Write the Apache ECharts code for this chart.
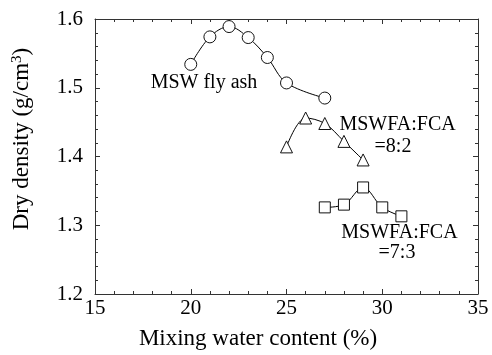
<!DOCTYPE html>
<html><head><meta charset="utf-8">
<script src="https://cdn.jsdelivr.net/npm/echarts@6/dist/echarts.min.js"></script>
<style>html,body{margin:0;padding:0;background:#fff}#c{width:492px;height:355px}</style>
</head><body><div id="c"></div>
<script>
const mswX = [20, 21, 22, 23, 24, 25, 27];
const mswY = [1.534, 1.574, 1.589, 1.573, 1.544, 1.507, 1.485];
const fa82X = [25, 26, 27, 28, 29];
const fa82Y = [1.414, 1.456, 1.448, 1.422, 1.395];
const fa73X = [27, 28, 29, 30, 31];
const fa73Y = [1.326, 1.330, 1.355, 1.326, 1.313];
const xTicks = [15, 20, 25, 30, 35];
const yTicks = [1.2, 1.3, 1.4, 1.5, 1.6];

const F = 'Liberation Serif';
const zip = (a, b) => a.map((v, i) => [v, b[i]]);
const axCommon = {
  axisLine: {show: true, lineStyle: {color: '#333', width: 1}},
  axisTick: {show: true, inside: true, length: 5, lineStyle: {color: '#333'}},
  minorTick: {show: true, splitNumber: 5, length: 3, lineStyle: {color: '#333'}},
  splitLine: {show: false}
};
function mkSeries(data, symbol, size) {
  return {
    type: 'line', data: data, symbol: symbol, symbolSize: size, smooth: 0.35,
    lineStyle: {color: '#000', width: 1},
    itemStyle: {color: '#fff', borderColor: '#111', borderWidth: 1},
    z: 3
  };
}
const chart = echarts.init(document.getElementById('c'));
chart.setOption({
  animation: false,
  grid: {left: 95, right: 14, top: 19, bottom: 61},
  xAxis: [
    Object.assign({type: 'value', min: xTicks[0], max: xTicks[xTicks.length - 1], interval: 5,
      axisLabel: {fontFamily: F, fontSize: 21, color: '#000', margin: 4}}, axCommon),
    Object.assign({type: 'value', position: 'top', min: 15, max: 35, interval: 5,
      axisLabel: {show: false}}, axCommon)
  ],
  yAxis: [
    Object.assign({type: 'value', min: yTicks[0], max: yTicks[yTicks.length - 1], interval: 0.1,
      axisLabel: {fontFamily: F, fontSize: 21, color: '#000', margin: 12,
        formatter: v => v.toFixed(1)}}, axCommon),
    Object.assign({type: 'value', position: 'right', min: 1.2, max: 1.6, interval: 0.1,
      axisLabel: {show: false}}, axCommon)
  ],
  series: [
    mkSeries(zip(mswX, mswY), 'circle', 12),
    mkSeries(zip(fa82X, fa82Y), 'triangle', 12),
    mkSeries(zip(fa73X, fa73Y), 'rect', 11)
  ]
});
const lbl = [
  {t: 'MSW fly ash', p: [20.69, 1.507]},
  {t: 'MSWFA:FCA', p: [30.8, 1.446]},
  {t: '=8:2', p: [30.56, 1.414]},
  {t: 'MSWFA:FCA', p: [30.9, 1.289]},
  {t: '=7:3', p: [30.77, 1.260]}
];
const graphics = lbl.map(l => {
  const px = chart.convertToPixel({xAxisIndex: 0, yAxisIndex: 0}, l.p);
  return {type: 'text', x: px[0], y: px[1],
    style: {text: l.t, fontFamily: F, fontSize: 20, fill: '#000', align: 'center', verticalAlign: 'middle'}};
});
graphics.push({type: 'text', x: 258, y: 339,
  style: {text: 'Mixing water content (%)', fontFamily: F, fontSize: 23, fill: '#000', align: 'center', verticalAlign: 'middle'}});
graphics.push({type: 'text', x: 22, y: 139, rotation: Math.PI / 2,
  style: {text: 'Dry density (g/cm{sup|3})', fontFamily: F, fontSize: 23, fill: '#000', align: 'center', verticalAlign: 'middle',
    rich: {sup: {fontFamily: F, fontSize: 15, fill: '#000', verticalAlign: 'top', padding: [0, 0, 10, 0]}}}});
chart.setOption({graphic: graphics});
</script></body></html>
